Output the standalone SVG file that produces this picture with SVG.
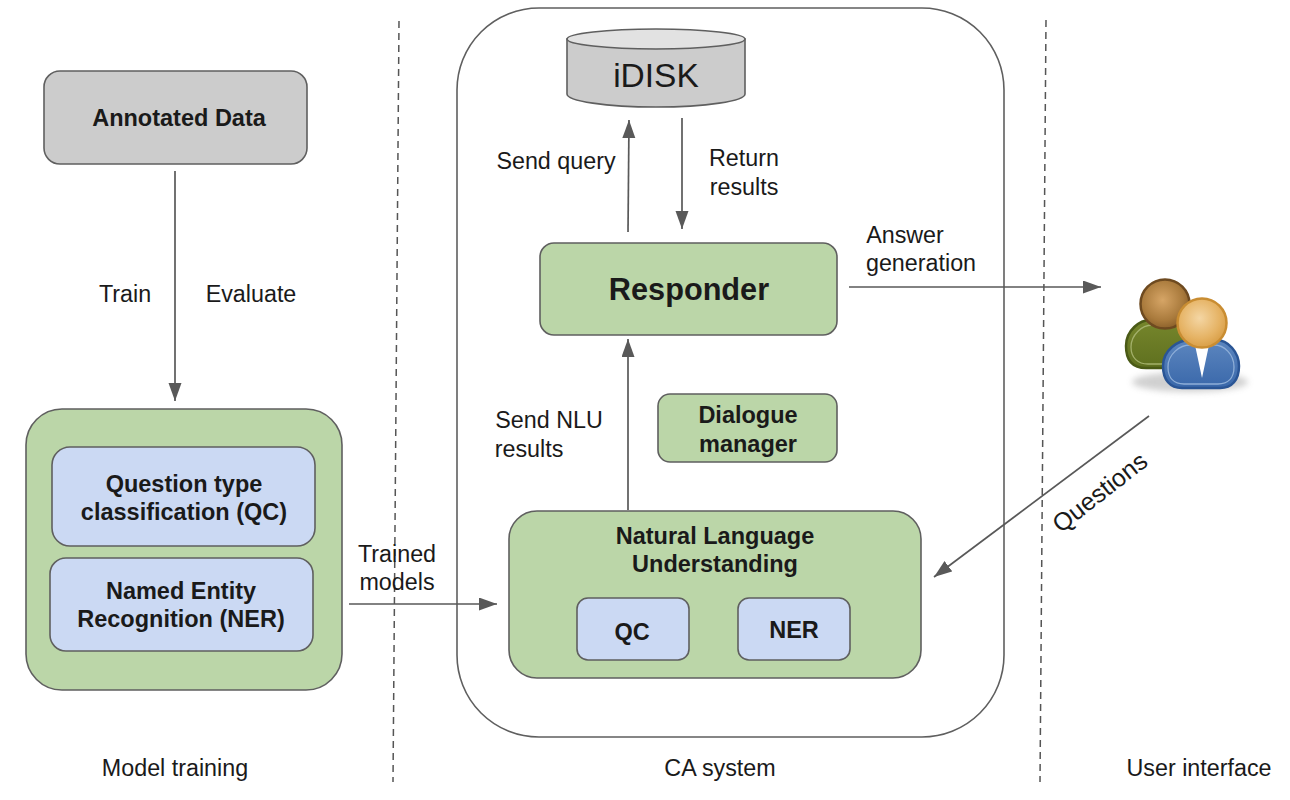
<svg xmlns="http://www.w3.org/2000/svg" width="1290" height="800" viewBox="0 0 1290 800">
<defs>
<marker id="arr" markerUnits="userSpaceOnUse" markerWidth="20" markerHeight="14" refX="18" refY="6.5" orient="auto"><path d="M0 0L18 6.5L0 13Z" fill="#595959"/></marker>
<radialGradient id="head1" cx="0.45" cy="0.42" r="0.6"><stop offset="0" stop-color="#d6a566"/><stop offset="0.7" stop-color="#a97a3c"/><stop offset="1" stop-color="#8a5f2a"/></radialGradient>
<radialGradient id="head2" cx="0.45" cy="0.4" r="0.6"><stop offset="0" stop-color="#f4d6a4"/><stop offset="0.7" stop-color="#e5b263"/><stop offset="1" stop-color="#d99f48"/></radialGradient>
<linearGradient id="blue" x1="0" y1="0" x2="0" y2="1"><stop offset="0" stop-color="#5c86bf"/><stop offset="1" stop-color="#3a68aa"/></linearGradient>
<linearGradient id="olive" x1="0" y1="0" x2="0" y2="1"><stop offset="0" stop-color="#76862c"/><stop offset="1" stop-color="#5f701f"/></linearGradient>
<filter id="blur" x="-20%" y="-40%" width="140%" height="180%"><feGaussianBlur stdDeviation="3"/></filter>
</defs>
<style>
text{font-family:"Liberation Sans",Arial,sans-serif;fill:#1a1a1a;text-anchor:middle}
.l{font-size:23.3px}
.b{font-size:23.5px;font-weight:700}
.green{fill:#bbd6a8;stroke:#5f5f5f;stroke-width:1.6}
.blue{fill:#cbd9f3;stroke:#5f5f5f;stroke-width:1.6}
.gray{fill:#cccccc;stroke:#5f5f5f;stroke-width:1.6}
.c{fill:none;stroke:#595959;stroke-width:1.7;marker-end:url(#arr)}
.d{fill:none;stroke:#555;stroke-width:1.5;stroke-dasharray:7 5}
</style>
<rect width="1290" height="800" fill="#fff"/>
<g id="dividers"><path class="d" d="M399 21L393 782"/><path class="d" d="M1046 20L1040 782"/></g>
<g id="ca-system"><rect x="457" y="8" width="547" height="729" rx="82" fill="#fff" stroke="#5f5f5f" stroke-width="1.6"/></g>
<g id="annotated-data"><rect class="gray" x="44" y="71" width="263" height="93" rx="16"/><text class="b" x="179" y="126">Annotated Data</text></g>
<g id="model-training"><rect class="green" x="26" y="409" width="316" height="281" rx="36"/>
<rect class="blue" x="52" y="447" width="263" height="99" rx="18"/><text class="b" x="184" y="492">Question type</text><text class="b" x="184" y="520">classification (QC)</text>
<rect class="blue" x="50" y="558" width="263" height="93" rx="16"/><text class="b" x="181" y="599">Named Entity</text><text class="b" x="181" y="627">Recognition (NER)</text></g>
<g id="idisk"><path class="gray" d="M567 39V94C567 101 606 107 656 107S745 101 745 94V39Z"/><ellipse cx="656" cy="39" rx="89" ry="10" fill="#e2e2e2" stroke="#5f5f5f" stroke-width="1.6"/><text x="656" y="87" font-size="33.5">iDISK</text></g>
<g id="responder"><rect class="green" x="540" y="243" width="297" height="92" rx="14"/><text x="689" y="300" font-size="30.7" font-weight="700">Responder</text></g>
<g id="dialogue-manager"><rect class="green" x="658" y="394" width="179" height="68" rx="12"/><text class="b" x="748" y="423">Dialogue</text><text class="b" x="748" y="452">manager</text></g>
<g id="nlu"><rect class="green" x="509" y="511" width="412" height="167" rx="28"/><text class="b" x="715" y="544">Natural Language</text><text class="b" x="715" y="572">Understanding</text>
<rect class="blue" x="577" y="598" width="112" height="62" rx="11"/><text class="b" x="632" y="640">QC</text>
<rect class="blue" x="738" y="598" width="112" height="62" rx="11"/><text class="b" x="794" y="638">NER</text></g>
<g id="users">
<ellipse cx="1190" cy="382" rx="58" ry="10" fill="#999" opacity=".45" filter="url(#blur)"/>
<path d="M1126 346C1126 330 1140 320 1150 320H1185V368H1146C1132 368 1126 360 1126 346Z" fill="url(#olive)" stroke="#4a5a16" stroke-width="2.5"/>
<path d="M1131 347C1131 335 1142 325 1152 325M1131 347C1131 358 1138 364 1148 364H1170" fill="none" stroke="#a3b06a" stroke-width="1.3"/>
<circle cx="1165" cy="304" r="24.5" fill="url(#head1)" stroke="#6e4a20" stroke-width="2.5"/>
<path d="M1163 366C1163 350 1178 340 1190 340H1216C1228 340 1239 352 1239 366C1239 380 1232 388 1220 388H1182C1170 388 1163 380 1163 366Z" fill="url(#blue)" stroke="#2a5595" stroke-width="2.5"/>
<path d="M1168 367C1168 354 1180 345 1190 345M1234 367C1234 354 1224 345 1214 345M1168 367C1168 378 1174 384 1184 384H1218C1228 384 1234 378 1234 367" fill="none" stroke="#8fafd8" stroke-width="1.3"/>
<path d="M1195 345L1202 378L1209 345Z" fill="#fff"/>
<circle cx="1202" cy="323" r="24.5" fill="url(#head2)" stroke="#c98d32" stroke-width="2.5"/>
</g>
<g id="connectors">
<path class="c" d="M175 171V401"/>
<path class="c" d="M349 604H497"/>
<path class="c" d="M628 232L629 120"/>
<path class="c" d="M682 118V229"/>
<path class="c" d="M628 510V339"/>
<path class="c" d="M849 287H1101"/>
<path class="c" d="M1149 416L934 577"/>
</g>
<g id="labels">
<text class="l" x="125" y="302">Train</text><text class="l" x="251" y="302">Evaluate</text>
<text class="l" x="397" y="562">Trained</text><text class="l" x="397" y="590">models</text>
<text class="l" x="556" y="169">Send query</text>
<text class="l" x="744" y="166">Return</text><text class="l" x="744" y="195">results</text>
<text class="l" x="905" y="243">Answer</text><text class="l" x="921" y="271">generation</text>
<text class="l" x="549" y="428">Send NLU</text><text class="l" x="529" y="457">results</text>
<text transform="translate(1105 499) rotate(-38)" font-size="25">Questions</text>
<text class="l" x="175" y="776">Model training</text><text class="l" x="720" y="776">CA system</text><text class="l" x="1199" y="776">User interface</text>
</g>
</svg>
